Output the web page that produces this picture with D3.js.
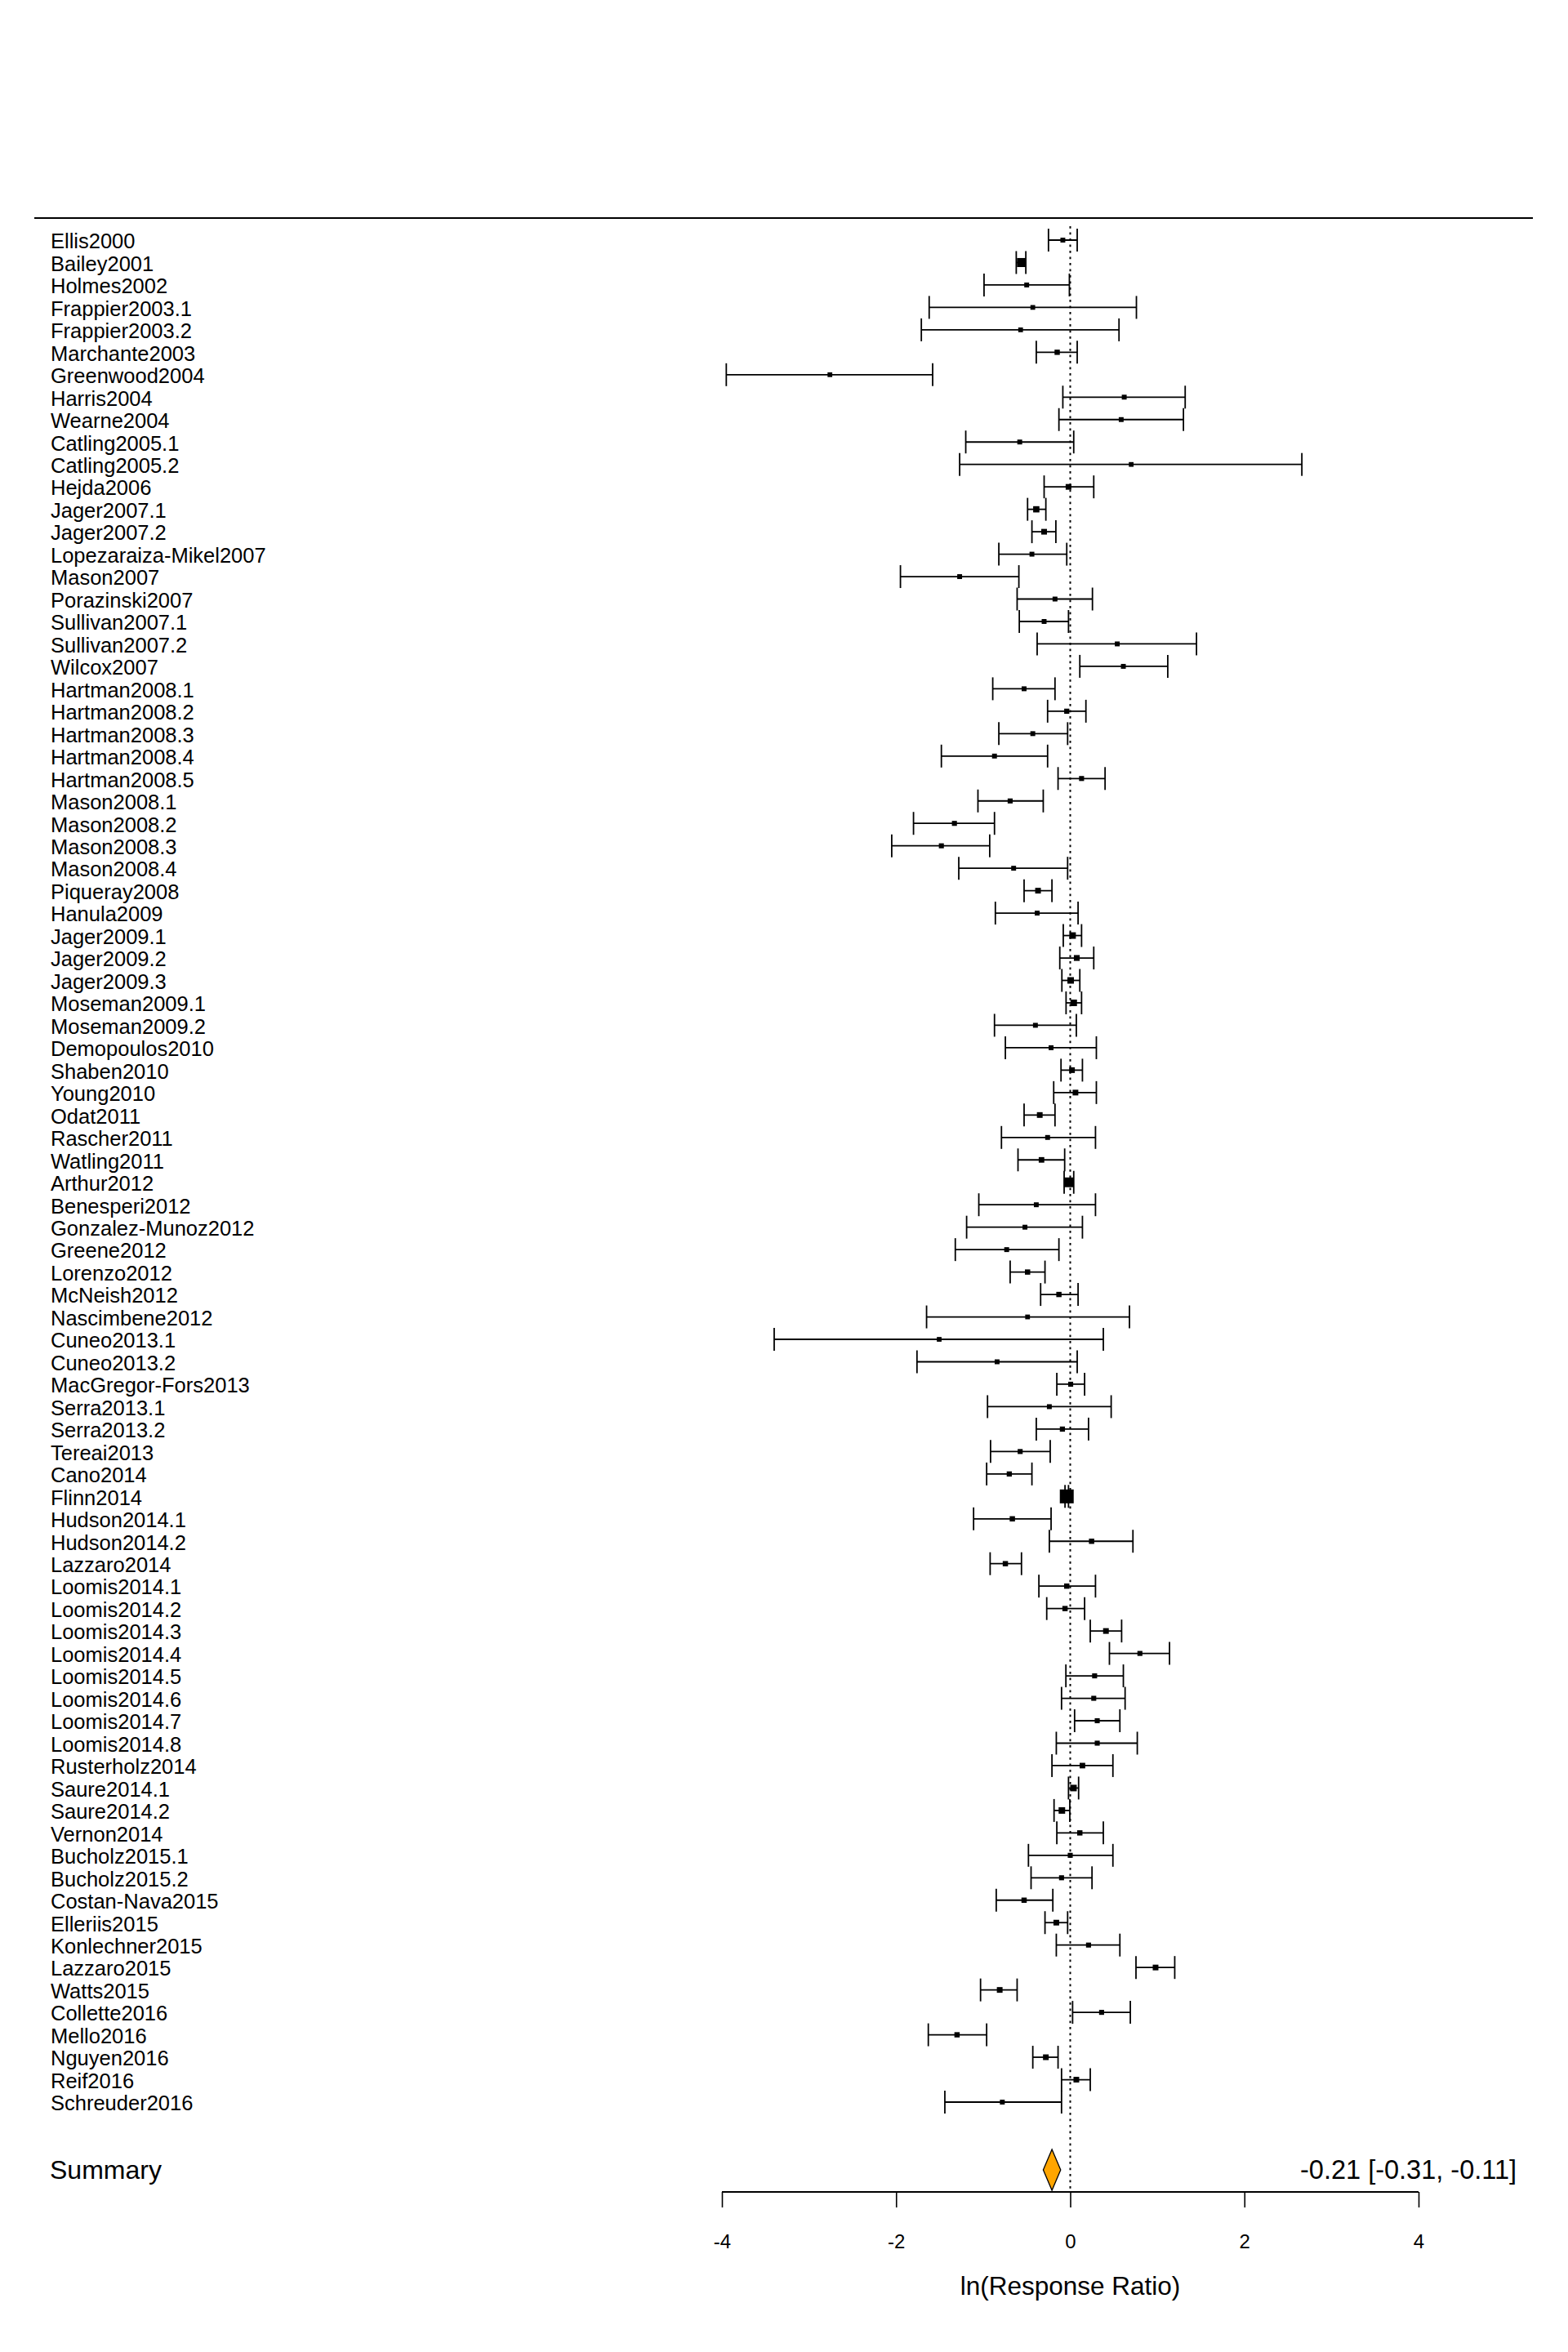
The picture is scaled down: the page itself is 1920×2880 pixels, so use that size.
<!DOCTYPE html>
<html>
<head>
<meta charset="utf-8">
<script src="https://cdn.jsdelivr.net/npm/d3@7/dist/d3.min.js"></script>
<style>
  html, body { margin: 0; padding: 0; background: #fff; }
  svg { display: block; }
  text { font-family: "Liberation Sans", Arial, sans-serif; fill: #000; }
</style>
</head>
<body>
<div id="chart"></div>
<script>
// ---------- DATA ----------
const studies = [
  "Ellis2000","Bailey2001","Holmes2002","Frappier2003.1","Frappier2003.2","Marchante2003",
  "Greenwood2004","Harris2004","Wearne2004","Catling2005.1","Catling2005.2","Hejda2006",
  "Jager2007.1","Jager2007.2","Lopezaraiza-Mikel2007","Mason2007","Porazinski2007",
  "Sullivan2007.1","Sullivan2007.2","Wilcox2007","Hartman2008.1","Hartman2008.2",
  "Hartman2008.3","Hartman2008.4","Hartman2008.5","Mason2008.1","Mason2008.2","Mason2008.3",
  "Mason2008.4","Piqueray2008","Hanula2009","Jager2009.1","Jager2009.2","Jager2009.3",
  "Moseman2009.1","Moseman2009.2","Demopoulos2010","Shaben2010","Young2010","Odat2011",
  "Rascher2011","Watling2011","Arthur2012","Benesperi2012","Gonzalez-Munoz2012","Greene2012",
  "Lorenzo2012","McNeish2012","Nascimbene2012","Cuneo2013.1","Cuneo2013.2","MacGregor-Fors2013",
  "Serra2013.1","Serra2013.2","Tereai2013","Cano2014","Flinn2014","Hudson2014.1","Hudson2014.2",
  "Lazzaro2014","Loomis2014.1","Loomis2014.2","Loomis2014.3","Loomis2014.4","Loomis2014.5",
  "Loomis2014.6","Loomis2014.7","Loomis2014.8","Rusterholz2014","Saure2014.1","Saure2014.2",
  "Vernon2014","Bucholz2015.1","Bucholz2015.2","Costan-Nava2015","Elleriis2015","Konlechner2015",
  "Lazzaro2015","Watts2015","Collette2016","Mello2016","Nguyen2016","Reif2016","Schreuder2016"
];

const estimate = [
  -0.085,-0.56,-0.50,-0.43,-0.57,-0.15,-2.76,0.62,0.585,-0.58,0.70,-0.02,
  -0.39,-0.30,-0.44,-1.27,-0.175,-0.30,0.54,0.61,-0.53,-0.04,-0.43,-0.87,
  0.13,-0.69,-1.33,-1.48,-0.65,-0.37,-0.38,0.027,0.075,0.005,0.04,-0.40,
  -0.22,0.02,0.06,-0.35,-0.26,-0.33,-0.016,-0.39,-0.52,-0.73,-0.49,-0.13,
  -0.49,-1.505,-0.84,0.005,-0.24,-0.09,-0.575,-0.70,-0.04,-0.665,0.245,-0.745,
  -0.04,-0.06,0.41,0.80,0.28,0.27,0.31,0.31,0.14,0.037,-0.096,0.11,
  0.0,-0.10,-0.53,-0.16,0.21,0.98,-0.81,0.36,-1.30,-0.28,0.07,-0.78
];

const ciLower = [
  -0.25,-0.62,-0.99,-1.62,-1.71,-0.39,-3.95,-0.085,-0.13,-1.20,-1.27,-0.30,
  -0.49,-0.44,-0.82,-1.95,-0.61,-0.585,-0.38,0.11,-0.89,-0.26,-0.82,-1.48,
  -0.14,-1.06,-1.80,-2.05,-1.28,-0.53,-0.86,-0.08,-0.12,-0.096,-0.048,-0.87,
  -0.745,-0.106,-0.19,-0.53,-0.79,-0.60,-0.07,-1.05,-1.19,-1.32,-0.69,-0.34,
  -1.65,-3.40,-1.76,-0.154,-0.95,-0.39,-0.915,-0.96,-0.06,-1.11,-0.24,-0.92,
  -0.36,-0.27,0.23,0.45,-0.05,-0.10,0.05,-0.16,-0.21,-0.02,-0.186,-0.154,
  -0.48,-0.45,-0.85,-0.29,-0.16,0.755,-1.03,0.027,-1.63,-0.43,-0.10,-1.44
];

const ciUpper = [
  0.08,-0.51,-0.01,0.76,0.56,0.08,-1.58,1.32,1.30,0.04,2.66,0.27,
  -0.28,-0.165,-0.04,-0.59,0.255,-0.02,1.45,1.12,-0.175,0.18,-0.03,-0.26,
  0.40,-0.31,-0.87,-0.925,-0.03,-0.21,0.09,0.13,0.27,0.11,0.13,0.07,
  0.30,0.14,0.30,-0.175,0.29,-0.064,0.04,0.29,0.14,-0.13,-0.29,0.09,
  0.68,0.38,0.08,0.165,0.47,0.21,-0.23,-0.44,-0.02,-0.22,0.72,-0.56,
  0.29,0.165,0.59,1.14,0.61,0.63,0.57,0.77,0.49,0.096,-0.005,0.38,
  0.49,0.25,-0.20,-0.03,0.57,1.20,-0.61,0.69,-0.96,-0.14,0.23,-0.10
];

// relative study weights (largest = 1)
const weight = [
  0.35,0.65,0.35,0.34,0.34,0.38,0.34,0.35,0.35,0.35,0.34,0.41,
  0.45,0.41,0.35,0.35,0.35,0.35,0.35,0.35,0.35,0.37,0.35,0.35,
  0.36,0.36,0.36,0.36,0.35,0.41,0.35,0.47,0.42,0.47,0.47,0.35,
  0.35,0.41,0.41,0.41,0.35,0.40,0.70,0.35,0.35,0.35,0.38,0.38,
  0.34,0.34,0.35,0.36,0.35,0.37,0.36,0.37,1.00,0.38,0.38,0.38,
  0.38,0.38,0.41,0.36,0.36,0.36,0.36,0.36,0.40,0.47,0.47,0.38,
  0.36,0.36,0.38,0.41,0.36,0.41,0.41,0.36,0.38,0.41,0.41,0.35
];

const summary = { label: "Summary", estimate: -0.21, lower: -0.31, upper: -0.11 };
const xTicks = [-4, -2, 0, 2, 4];
const xTitle = "ln(Response Ratio)";

// ---------- CHART ----------
const W = 1920, H = 2880;
const svg = d3.select("#chart").append("svg")
  .attr("width", W).attr("height", H)
  .attr("viewBox", `0 0 ${W} ${H}`);
svg.append("rect").attr("width", W).attr("height", H).attr("fill", "#fff");

const x = d3.scaleLinear().domain([-4, 4]).range([884, 1737]);
const y = d3.scalePoint().domain(studies).range([294, 2574]);
const size = d3.scaleLinear().domain([0, 1]).range([0, 17]);

const summaryY = 2657;
const axisY = 2684;
const capHalf = 14;
const lw = 1.8;

// top rule
svg.append("line")
  .attr("x1", 42).attr("x2", 1877).attr("y1", 267).attr("y2", 267)
  .attr("stroke", "#000").attr("stroke-width", 2);

// reference line at 0
svg.append("line")
  .attr("x1", x(0)).attr("x2", x(0)).attr("y1", 277).attr("y2", axisY)
  .attr("stroke", "#000").attr("stroke-width", 2)
  .attr("stroke-dasharray", "2.7,4.8");

const data = studies.map((s, i) => ({
  name: s, est: estimate[i], lo: ciLower[i], hi: ciUpper[i], w: weight[i]
}));

// study labels
svg.append("g").selectAll("text").data(data).join("text")
  .attr("x", 62).attr("y", d => y(d.name)).attr("dy", 10.3)
  .attr("font-size", 25.5)
  .text(d => d.name);

const rows = svg.append("g");
rows.selectAll("line.ci").data(data).join("line").attr("class", "ci")
  .attr("x1", d => x(d.lo)).attr("x2", d => x(d.hi))
  .attr("y1", d => y(d.name)).attr("y2", d => y(d.name))
  .attr("stroke", "#000").attr("stroke-width", lw);
rows.selectAll("line.capl").data(data).join("line").attr("class", "capl")
  .attr("x1", d => x(d.lo)).attr("x2", d => x(d.lo))
  .attr("y1", d => y(d.name) - capHalf).attr("y2", d => y(d.name) + capHalf)
  .attr("stroke", "#000").attr("stroke-width", lw);
rows.selectAll("line.capr").data(data).join("line").attr("class", "capr")
  .attr("x1", d => x(d.hi)).attr("x2", d => x(d.hi))
  .attr("y1", d => y(d.name) - capHalf).attr("y2", d => y(d.name) + capHalf)
  .attr("stroke", "#000").attr("stroke-width", lw);
rows.selectAll("rect.pt").data(data).join("rect").attr("class", "pt")
  .attr("x", d => x(d.est) - size(d.w) / 2)
  .attr("y", d => y(d.name) - size(d.w) / 2)
  .attr("width", d => size(d.w)).attr("height", d => size(d.w))
  .attr("fill", "#000");

// summary diamond
const dh = 25;
svg.append("polygon")
  .attr("points", [
    [x(summary.lower), summaryY], [x(summary.estimate), summaryY - dh],
    [x(summary.upper), summaryY], [x(summary.estimate), summaryY + dh]
  ].map(p => p.join(",")).join(" "))
  .attr("fill", "#FFA500").attr("stroke", "#000").attr("stroke-width", 1.3);

svg.append("text").attr("x", 61).attr("y", summaryY).attr("dy", 10.5)
  .attr("font-size", 32).text(summary.label);
svg.append("text").attr("x", 1857).attr("y", summaryY).attr("dy", 10.5)
  .attr("font-size", 32.5).attr("text-anchor", "end")
  .text(`${summary.estimate.toFixed(2)} [${summary.lower.toFixed(2)}, ${summary.upper.toFixed(2)}]`);

// x axis
const axis = d3.axisBottom(x).tickValues(xTicks).tickSize(19).tickPadding(0)
  .tickFormat(d3.format("d"));
const gAxis = svg.append("g").attr("transform", `translate(0,${axisY})`).call(axis);
gAxis.select(".domain").attr("d", `M${x(-4)},0H${x(4)}`)
  .attr("stroke", "#000").attr("stroke-width", 2.2);
gAxis.selectAll(".tick line").attr("stroke", "#000").attr("stroke-width", 1.6);
gAxis.selectAll(".tick text")
  .attr("font-family", "'Liberation Sans', Arial, sans-serif")
  .attr("font-size", 24).attr("fill", "#000")
  .attr("y", 69).attr("dy", 0)
  .text(d => d < 0 ? "-" + Math.abs(d) : String(d));

svg.append("text").attr("x", x(0)).attr("y", 2810)
  .attr("text-anchor", "middle").attr("font-size", 31.5)
  .text(xTitle);
</script>
</body>
</html>
